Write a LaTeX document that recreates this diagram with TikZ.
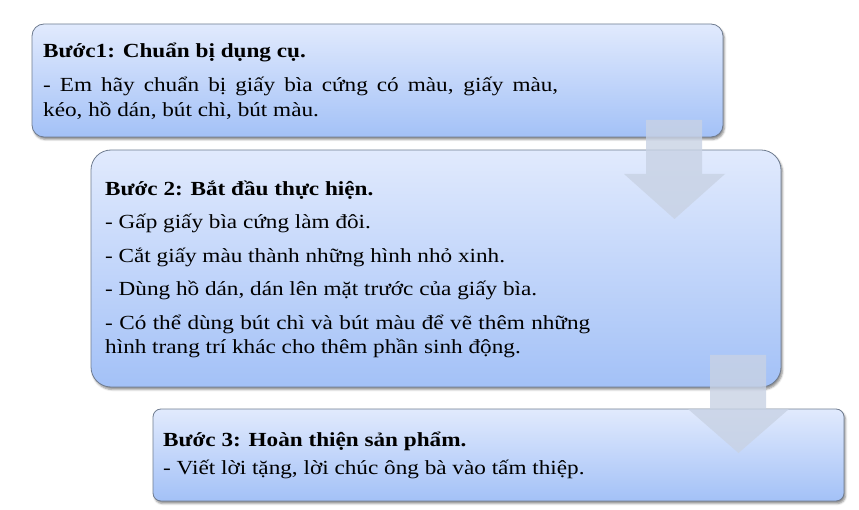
\documentclass[tikz,border=0pt]{standalone}
\usepackage{fontspec}
\setmainfont{Liberation Serif}[FakeStretch=1.16]
\usetikzlibrary{shadows.blur}
\definecolor{boxtop}{HTML}{E1EAFD}
\definecolor{boxbot}{HTML}{A3C1F7}
\definecolor{boxline}{HTML}{6F7C90}
\definecolor{arrowfill}{RGB}{200,210,228}
\tikzset{
 stepbox/.style={draw=boxline, line width=0.8pt, top color=boxtop, bottom color=boxbot,
   inner sep=0pt, outer sep=0pt,
   blur shadow={shadow xshift=1.5pt, shadow yshift=-2.5pt, shadow blur radius=2pt, shadow opacity=45}},
 steptitle/.style={anchor=base west, inner sep=0pt, font=\fontsize{20}{25}\selectfont\bfseries},
 stepline/.style={anchor=base west, inner sep=0pt, font=\fontsize{20}{25}\selectfont},
 bigarrow/.style={fill=arrowfill, fill opacity=0.8, draw=none}
}
\begin{document}
\begin{tikzpicture}[x=1pt,y=-1pt]
\useasboundingbox (0,0) rectangle (859,510);
% boxes
\node[stepbox, rounded corners=12pt, minimum width=691pt, minimum height=113pt] (b1) at (377.5,80.5) {};
\node[stepbox, rounded corners=20pt, minimum width=690pt, minimum height=237pt] (b2) at (436,268.5) {};
\node[stepbox, rounded corners=8pt, minimum width=691pt, minimum height=92pt] (b3) at (498.5,455) {};
% box 1 text
\node[steptitle] (t1) at (43,58) {Bước1: Chuẩn bị dụng cụ.};
\node[stepline] (l11) at (43,92) {\makebox[515pt][s]{- Em hãy chuẩn bị giấy bìa cứng có màu, giấy màu,}};
\node[stepline] (l12) at (43,117) {kéo, hồ dán, bút chì, bút màu.};
% box 2 text
\node[steptitle] (t2) at (105,196) {Bước 2: Bắt đầu thực hiện.};
\node[stepline] (l21) at (105,229) {- Gấp giấy bìa cứng làm đôi.};
\node[stepline] (l22) at (105,263) {- Cắt giấy màu thành những hình nhỏ xinh.};
\node[stepline] (l23) at (105,296) {- Dùng hồ dán, dán lên mặt trước của giấy bìa.};
\node[stepline] (l24) at (105,330) {\makebox[485pt][s]{- Có thể dùng bút chì và bút màu để vẽ thêm những}};
\node[stepline] (l25) at (105,354) {hình trang trí khác cho thêm phần sinh động.};
% box 3 text
\node[steptitle] (t3) at (163,446) {Bước 3: Hoàn thiện sản phẩm.};
\node[stepline] (l31) at (163,474) {- Viết lời tặng, lời chúc ông bà vào tấm thiệp.};
% arrows
\fill[bigarrow] (646,120) -- (702,120) -- (702,174) -- (725,174) -- (674.5,219) -- (624,174) -- (646,174) -- cycle;
\fill[bigarrow] (710,355) -- (766,355) -- (766,409) -- (789,409) -- (738.5,453) -- (688,409) -- (710,409) -- cycle;
\end{tikzpicture}
\end{document}
